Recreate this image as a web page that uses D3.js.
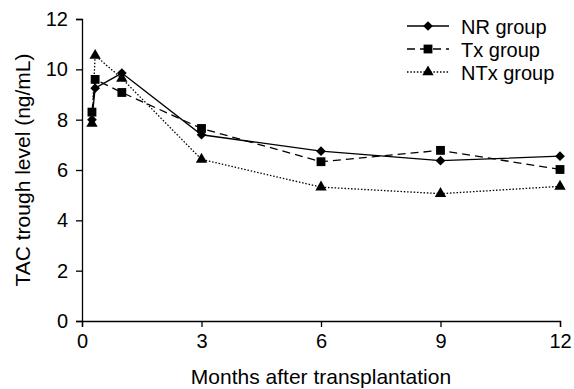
<!DOCTYPE html>
<html><head><meta charset="utf-8">
<script src="https://cdn.jsdelivr.net/npm/d3@7"></script>
<style>body{margin:0;background:#fff}svg{display:block}text{font-family:"Liberation Sans",Arial,sans-serif;fill:#000}</style>
</head><body>
<svg id="c" width="574" height="389"></svg>
<script>
const months = [0.25, 0.33, 1, 3, 6, 9, 12];
const nrValues  = [8.0, 9.25, 9.85, 7.4, 6.75, 6.37, 6.55];
const txValues  = [8.3, 9.6, 9.08, 7.65, 6.33, 6.78, 6.02];
const ntxValues = [7.85, 10.55, 9.64, 6.42, 5.32, 5.06, 5.35];
const xTicks = [0, 3, 6, 9, 12];
const yTicks = [0, 2, 4, 6, 8, 10, 12];
const seriesNames = ["NR group", "Tx group", "NTx group"];

const series = [
  {name: seriesNames[0], values: nrValues, dash: null, sym: d3.symbolDiamond2, size: 60},
  {name: seriesNames[1], values: txValues, dash: "8,5", sym: d3.symbolSquare, size: 78},
  {name: seriesNames[2], values: ntxValues, dash: "1.5,1.8", sym: d3.symbolTriangle, size: 56}
];

const svg = d3.select("#c");
const x = d3.scaleLinear().domain([0, 12]).range([82, 560]);
const y = d3.scaleLinear().domain([0, 12]).range([321, 19]);

const gx = svg.append("g").attr("transform", "translate(0,321)")
  .call(d3.axisBottom(x).tickValues(xTicks).tickSize(6).tickPadding(7));
const gy = svg.append("g").attr("transform", "translate(82,0)")
  .call(d3.axisLeft(y).tickValues(yTicks).tickSize(6).tickPadding(8));
[gx, gy].forEach(g => {
  g.select(".domain").attr("stroke", "#000").attr("stroke-width", 1.3);
  g.selectAll(".tick line").attr("stroke", "#000").attr("stroke-width", 1.3);
  g.selectAll(".tick text").attr("font-size", 20).attr("font-family", "Liberation Sans, Arial, sans-serif").attr("fill", "#000");
});

svg.append("text").attr("x", 321).attr("y", 384).attr("text-anchor", "middle")
  .attr("font-size", 21).text("Months after transplantation");
svg.append("text").attr("transform", "translate(30,170) rotate(-90)").attr("text-anchor", "middle")
  .attr("font-size", 21).text("TAC trough level (ng/mL)");

const line = d3.line().x(d => x(d[0])).y(d => y(d[1]));
series.forEach((s, i) => {
  const pts = months.map((m, j) => [m, s.values[j]]);
  svg.append("path").datum(pts).attr("d", line).attr("fill", "none")
    .attr("stroke", "#000").attr("stroke-width", 1.3)
    .attr("stroke-dasharray", s.dash);
  svg.selectAll(null).data(pts).enter().append("path")
    .attr("transform", d => `translate(${x(d[0])},${y(d[1])})`)
    .attr("d", d3.symbol().type(s.sym).size(s.size))
    .attr("fill", "#000");
});

// legend
const ly = [26, 49, 72];
series.forEach((s, i) => {
  const g = svg.append("g");
  g.append("line").attr("x1", 407).attr("x2", 449).attr("y1", ly[i]).attr("y2", ly[i])
    .attr("stroke", "#000").attr("stroke-width", 1.3).attr("stroke-dasharray", s.dash);
  g.append("path").attr("transform", `translate(428,${ly[i]})`)
    .attr("d", d3.symbol().type(s.sym).size(s.size)).attr("fill", "#000");
  g.append("text").attr("x", 461).attr("y", ly[i] + 8).attr("font-size", 20).text(s.name);
});
</script>
</body></html>
